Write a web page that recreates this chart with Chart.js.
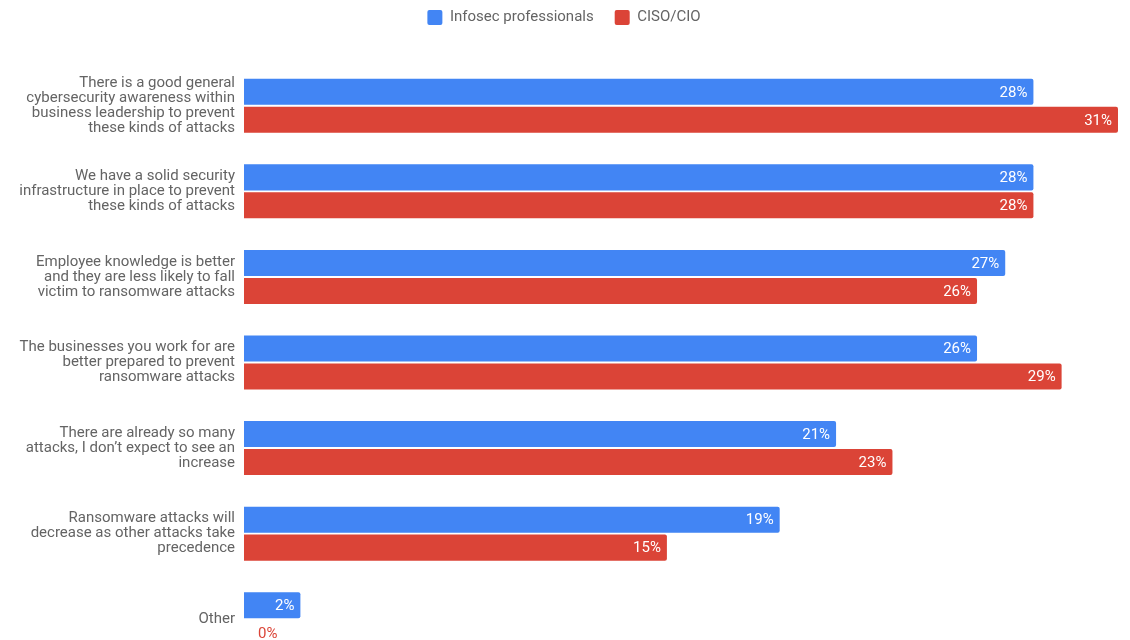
<!DOCTYPE html>
<html>
<head>
<meta charset="utf-8">
<script src="https://cdn.jsdelivr.net/npm/chart.js@4"></script>
<style>
  html, body { margin: 0; padding: 0; background: #fff; overflow: hidden; }
  canvas { display: block; }
</style>
</head>
<body>
<canvas id="chart" width="1130" height="662"></canvas>
<script>
// Statements, split into lines for the axis
const statements = [
  ['There is a good general', 'cybersecurity awareness within', 'business leadership to prevent', 'these kinds of attacks'],
  ['We have a solid security', 'infrastructure in place to prevent', 'these kinds of attacks'],
  ['Employee knowledge is better', 'and they are less likely to fall', 'victim to ransomware attacks'],
  ['The businesses you work for are', 'better prepared to prevent', 'ransomware attacks'],
  ['There are already so many', 'attacks, I don\u2019t expect to see an', 'increase'],
  ['Ransomware attacks will', 'decrease as other attacks take', 'precedence'],
  'Other'
];
const infosecPct = [28, 28, 27, 26, 21, 19, 2];
const cisoPct = [31, 28, 26, 29, 23, 15, 0];

const BLUE = '#4285F4';
const RED = '#DB4437';
const TEXT = '#646464';

Chart.defaults.font.family = "Roboto, 'Noto Sans', sans-serif";
Chart.defaults.font.size = 15;
Chart.defaults.color = TEXT;

// fixed legend band above the bars, items nudged up and right
const legendBand = {
  id: 'legendBand',
  beforeInit(chart) {
    const legend = chart.legend;
    const fit = legend.fit;
    legend.fit = function () {
      fit.call(this);
      this.height = 63;
    };
    const draw = legend.draw;
    legend.draw = function () {
      const ctx = chart.ctx;
      ctx.save();
      ctx.translate(5, -11);
      draw.call(this);
      ctx.restore();
    };
  }
};

// value labels at the end of each bar
const barValues = {
  id: 'barValues',
  afterDatasetsDraw(chart) {
    const ctx = chart.ctx;
    ctx.save();
    ctx.font = "15px Roboto, 'Noto Sans', sans-serif";
    ctx.textBaseline = 'middle';
    chart.data.datasets.forEach((ds, i) => {
      chart.getDatasetMeta(i).data.forEach((bar, j) => {
        const text = ds.data[j] + '%';
        const w = ctx.measureText(text).width;
        if (bar.x - bar.base > w + 12) {
          ctx.fillStyle = '#fff';
          ctx.textAlign = 'right';
          ctx.fillText(text, bar.x - 6, bar.y + 1);
        } else {
          ctx.fillStyle = ds.backgroundColor;
          ctx.textAlign = 'left';
          ctx.fillText(text, bar.x + 14, bar.y + 1);
        }
      });
    });
    ctx.restore();
  }
};

new Chart(document.getElementById('chart'), {
  type: 'bar',
  data: {
    labels: statements,
    datasets: [
      {
        label: 'Infosec professionals',
        data: infosecPct,
        backgroundColor: BLUE,
        borderRadius: 2,
        borderSkipped: 'start',
        categoryPercentage: 0.654,
        barPercentage: 0.93
      },
      {
        label: 'CISO/CIO',
        data: cisoPct,
        backgroundColor: RED,
        borderRadius: 2,
        borderSkipped: 'start',
        categoryPercentage: 0.654,
        barPercentage: 0.93
      }
    ]
  },
  options: {
    indexAxis: 'y',
    responsive: false,
    animation: false,
    layout: { padding: { left: 0, right: 12, top: 0, bottom: 0 } },
    plugins: {
      legend: {
        position: 'top',
        labels: {
          boxWidth: 15,
          boxHeight: 15,
          padding: 21,
          useBorderRadius: true,
          borderRadius: 2,
          color: TEXT,
          font: { size: 15 }
        }
      },
      tooltip: { enabled: false }
    },
    scales: {
      x: {
        display: false,
        min: 0,
        max: 31
      },
      y: {
        grid: { display: false, drawTicks: false },
        border: { display: false },
        ticks: {
          padding: 9,
          color: TEXT,
          font: { size: 15, lineHeight: 1 }
        },
        afterFit(scale) {
          // fixed gutter for the statements; tall labels must not shrink the plot
          scale.width = 244;
          scale.paddingTop = 0;
          scale.paddingBottom = 0;
        }
      }
    }
  },
  plugins: [legendBand, barValues]
});
</script>
</body>
</html>
